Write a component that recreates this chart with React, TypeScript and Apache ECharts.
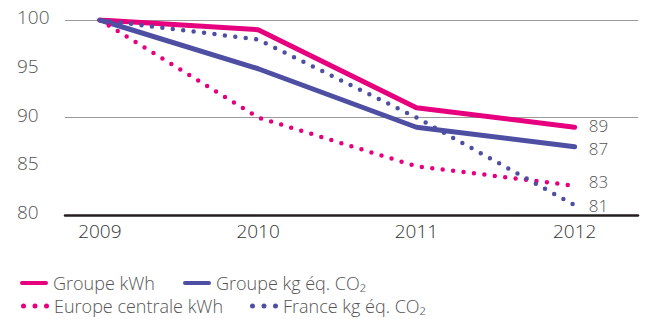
import React, { useEffect, useRef } from "react";
import * as echarts from "echarts";

const years = [2009, 2010, 2011, 2012];
const groupeKwh = [100, 99, 91, 89];
const groupeCo2 = [100, 95, 89, 87];
const europeKwh = [100, 90, 85, 83];
const franceCo2 = [100, 98, 90, 81];
const seriesNames = ["Groupe kWh", "Groupe kg éq. CO₂", "Europe centrale kWh", "France kg éq. CO₂"];

const MAGENTA = "#E6007E";
const BLUE = "#4E4FA3";
const FONT = "Open Sans";

const SOLID_ICON = "path://M2,0 H27 A2,2 0 0 1 27,4 H2 A2,2 0 0 1 2,0 Z";
const DOT_ICON =
  "path://M0,2.5 a2.5,2.5 0 1,0 5,0 a2.5,2.5 0 1,0 -5,0 Z M11.5,2.5 a2.5,2.5 0 1,0 5,0 a2.5,2.5 0 1,0 -5,0 Z M23,2.5 a2.5,2.5 0 1,0 5,0 a2.5,2.5 0 1,0 -5,0 Z";

export default function App() {
  const ref = useRef<HTMLDivElement>(null);
  useEffect(() => {
    if (!ref.current) return;
    const chart = echarts.init(ref.current, null, { renderer: "svg" });
    const pairs = (vals: number[]) => years.map((y, i) => [y, vals[i]]);
    const mkSeries = (name: string, vals: number[], color: string, dotted: boolean, offY: number) => ({
      name,
      type: "line",
      data: pairs(vals),
      symbol: "none",
      showSymbol: false,
      color,
      lineStyle: dotted
        ? { color, width: 4.5, type: [0, 10.5], cap: "round" }
        : { color, width: 5, type: "solid", cap: "round", join: "round" },
      endLabel: {
        show: true,
        distance: 14,
        offset: [0, offY],
        formatter: (p: any) => String(p.value[1]),
        color: "#555",
        fontSize: 17,
        lineHeight: 17,
        fontFamily: FONT,
        fontWeight: 300,
      },
      z: dotted ? 3 : 2,
    });
    const legendBase = {
      itemWidth: 28,
      itemHeight: 4,
      textStyle: { color: "#555", fontSize: 18, fontFamily: FONT, fontWeight: 300 },
      selectedMode: false,
      padding: 0,
    };
    chart.setOption({
      animation: false,
      grid: { left: 65, right: 7, top: 20, bottom: 104 },
      xAxis: {
        type: "value",
        min: 2008.78,
        max: 2012.4,
        axisLine: { show: true, lineStyle: { color: "#231F20", width: 2.5 } },
        axisTick: { show: false },
        splitLine: { show: false },
        axisLabel: {
          color: "#333",
          fontSize: 19,
          fontFamily: FONT,
          fontWeight: 300,
          margin: 6,
          showMinLabel: false,
          showMaxLabel: false,
          formatter: (v: number) => (Math.abs(v - Math.round(v)) < 1e-6 ? String(Math.round(v)) : ""),
        },
      },
      yAxis: {
        type: "value",
        min: 80,
        max: 100,
        interval: 5,
        axisLine: { show: false },
        axisTick: { show: false },
        axisLabel: {
          align: "left",
          verticalAlign: "bottom",
          lineHeight: 6,
          margin: 48,
          color: "#555",
          fontSize: 19,
          fontFamily: FONT,
          fontWeight: 300,
        },
        splitLine: {
          show: true,
          lineStyle: { color: ["transparent", "transparent", "#9a9a9a", "transparent", "#9a9a9a"], width: 1 },
        },
      },
      legend: [
        { ...legendBase, data: [{ name: seriesNames[0], icon: SOLID_ICON }], left: 20, top: 274 },
        { ...legendBase, data: [{ name: seriesNames[1], icon: SOLID_ICON }], left: 183, top: 274 },
        { ...legendBase, itemHeight: 5, data: [{ name: seriesNames[2], icon: DOT_ICON }], left: 21, top: 297 },
        { ...legendBase, itemHeight: 5, data: [{ name: seriesNames[3], icon: DOT_ICON }], left: 250, top: 297 },
      ],
      series: [
        mkSeries(seriesNames[0], groupeKwh, MAGENTA, false, -1.5),
        mkSeries(seriesNames[1], groupeCo2, BLUE, false, 1.5),
        mkSeries(seriesNames[2], europeKwh, MAGENTA, true, -4),
        mkSeries(seriesNames[3], franceCo2, BLUE, true, 0),
      ],
    });
    return () => chart.dispose();
  }, []);
  return <div ref={ref} style={{ width: 645, height: 319, position: "absolute", left: 0, top: 0 }} />;
}
